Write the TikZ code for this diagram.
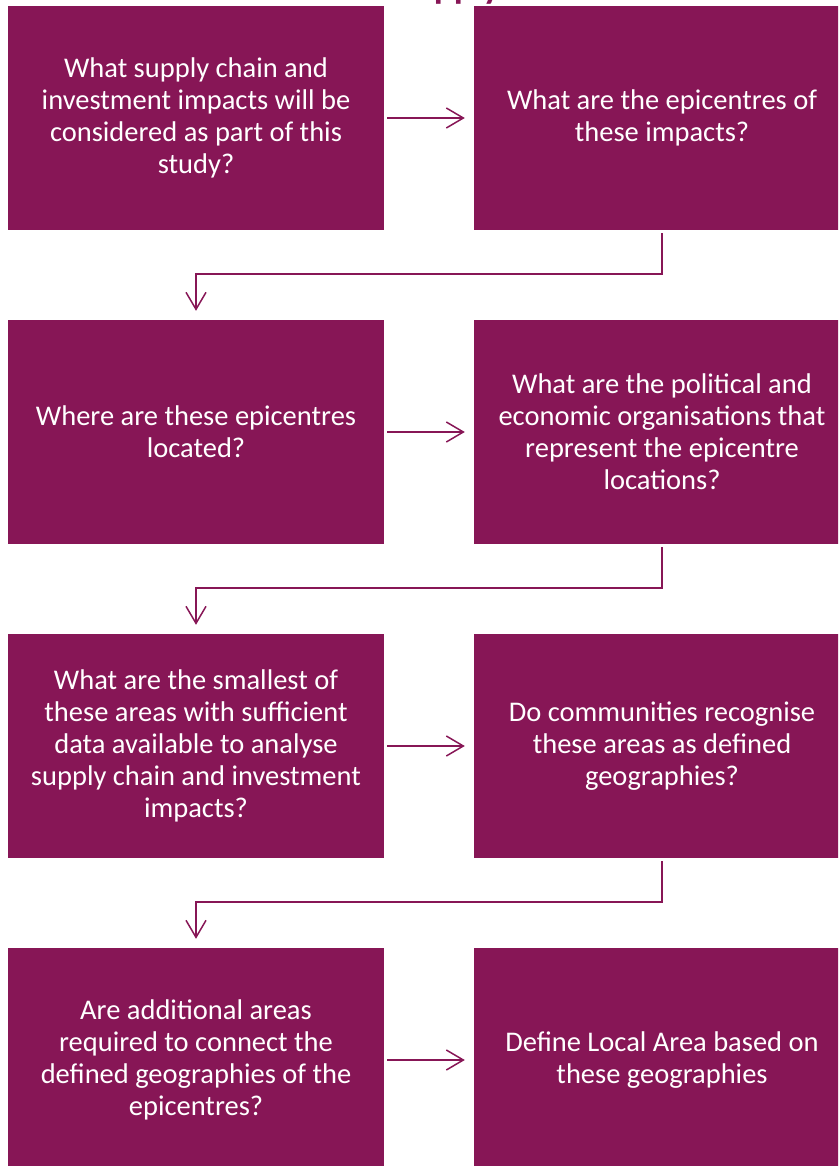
\documentclass[tikz,border=0pt]{standalone}
\usepackage{fontspec}
\setmainfont{Carlito}
\usetikzlibrary{arrows.meta}
\definecolor{plum}{RGB}{135,22,86}
\begin{document}
\begin{tikzpicture}[x=1pt,y=-1pt,
  box/.style={fill=plum, draw=none, minimum width=376pt, minimum height=224pt,
    inner sep=0pt, text=white, align=center, font=\fontsize{28.5}{32}\selectfont},
  conn/.style={draw=plum, line width=1.5pt, -{Straight Barb[length=17pt,width=20pt,line width=1.5pt]}}]
\useasboundingbox (0,0) rectangle (838,1166);
\begin{scope}
\clip (0,0) rectangle (838,1166);
\node[anchor=base west, text=plum, font=\bfseries\fontsize{37}{40}\selectfont] (title) at (393,-1) {Supply};
\node[box] (a1) at (196,118) {What supply chain and\\investment impacts will be\\considered as part of this\\study?};
\node[box] (b1) at (662,118) {What are the epicentres of\\these impacts?};
\node[box] (a2) at (196,432) {Where are these epicentres\\located?};
\node[box] (b2) at (662,432) {What are the political and\\economic organisations that\\represent the epicentre\\locations?};
\node[box] (a3) at (196,746) {What are the smallest of\\these areas with sufficient\\data available to analyse\\supply chain and investment\\impacts?};
\node[box] (b3) at (662,746) {Do communities recognise\\these areas as defined\\geographies?};
\node[box] (a4) at (196,1060) {Are additional areas\\required to connect the\\defined geographies of the\\epicentres?};
\node[box] (b4) at (662,1060) {Define Local Area based on\\these geographies};
\end{scope}
\foreach \r in {1,2,3,4}{
  \draw[conn, shorten <=3pt, shorten >=9pt] (a\r.east) -- (b\r.west);
}
\coordinate (k1) at (662,274);
\coordinate (k2) at (662,588);
\coordinate (k3) at (662,902);
\draw[conn, shorten <=3pt, shorten >=9pt] (b1.south) -- (k1) -| (a2.north);
\draw[conn, shorten <=3pt, shorten >=9pt] (b2.south) -- (k2) -| (a3.north);
\draw[conn, shorten <=3pt, shorten >=9pt] (b3.south) -- (k3) -| (a4.north);
\end{tikzpicture}
\end{document}
